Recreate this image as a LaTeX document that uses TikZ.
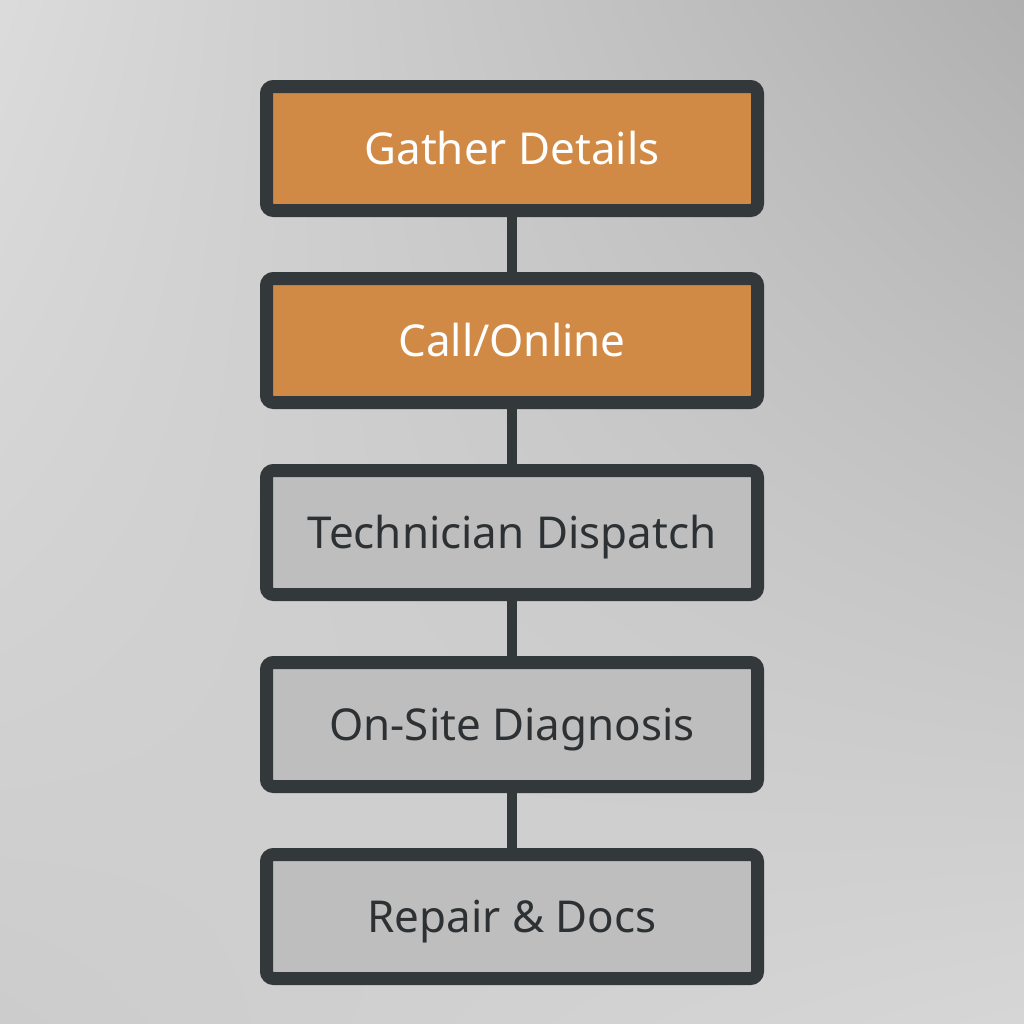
\documentclass[tikz,border=0pt]{standalone}
\usepackage{fontspec}
\setmainfont{Noto Sans}
\usetikzlibrary{positioning,shadows,shadings}

\definecolor{boxline}{HTML}{33383A}
\definecolor{orangefill}{HTML}{D18A45}
\definecolor{grayfill}{HTML}{BEBEBE}
\definecolor{darktext}{HTML}{2E3133}

\begin{document}
\begin{tikzpicture}[
        node distance=1.1cm,
        every node/.style={draw=boxline, line width=0.26cm, rounded corners=0.14cm,
            minimum width=9.82cm, minimum height=2.48cm, align=center,
            font=\fontsize{25}{30}\selectfont, text height=17.85pt, text depth=0pt,
            drop shadow={opacity=0.12, shadow xshift=0cm, shadow yshift=-0.08cm}},
        active/.style={fill=orangefill, text=white},
        idle/.style={fill=grayfill, text=darktext},
        link/.style={draw=boxline, line width=0.2cm}
    ]

    % Background
    \useasboundingbox (0,0) rectangle (20.48,-20.48);
    \shade[upper left=gray!28, upper right=gray!62, lower left=gray!40, lower right=gray!32]
        (0,0) rectangle (20.48,-20.48);

    % Nodes
    \node[active] (gather) at (10.24,-2.97) {Gather Details};
    \node[active] (call) [below=of gather] {Call/Online};
    \node[idle] (dispatch) [below=of call] {Technician Dispatch};
    \node[idle] (diagnosis) [below=of dispatch] {On-Site Diagnosis};
    \node[idle] (repair) [below=of diagnosis] {Repair \& Docs};

    % Edges
    \draw[link] (gather) -- (call);
    \draw[link] (call) -- (dispatch);
    \draw[link] (dispatch) -- (diagnosis);
    \draw[link] (diagnosis) -- (repair);

\end{tikzpicture}
\end{document}
